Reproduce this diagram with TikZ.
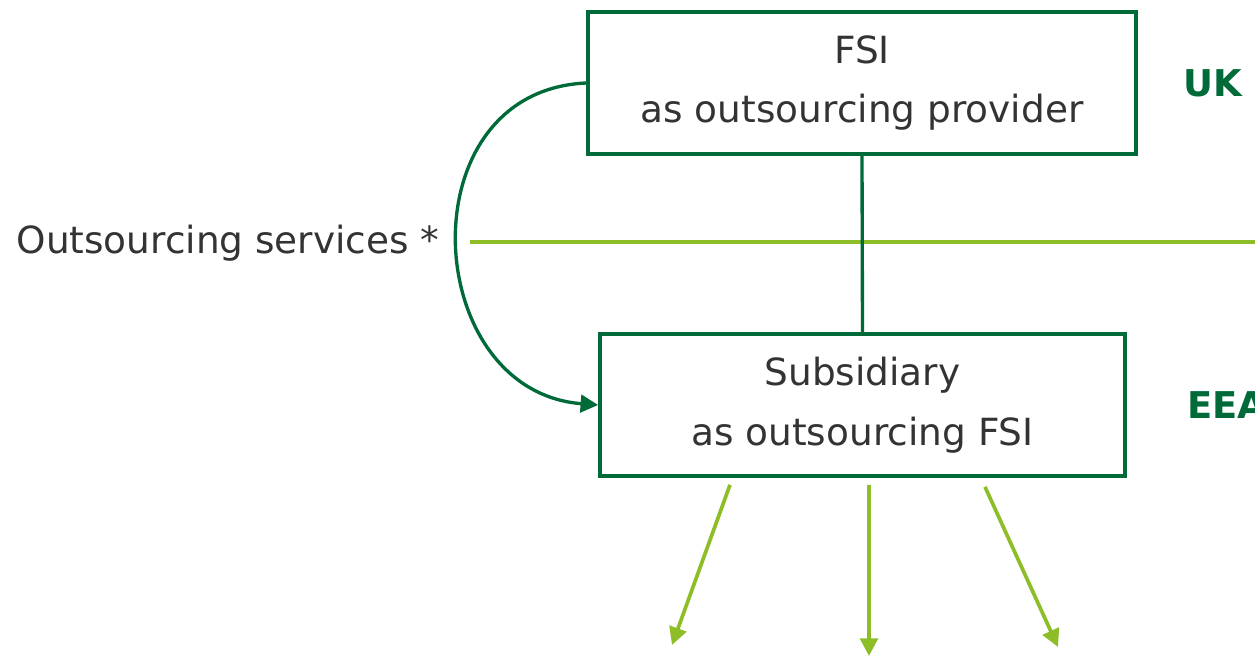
\documentclass[tikz,border=0pt]{standalone}
\usepackage{fontspec}
\setmainfont{DejaVu Sans}
\usetikzlibrary{
    positioning,
    arrows.meta
}
\definecolor{fsiGreen}{RGB}{0,106,57}
\definecolor{lineGreen}{RGB}{141,190,40}
\definecolor{textGrey}{RGB}{51,51,51}
\tikzset{
    >={Triangle[length=10pt,width=10pt]},
    % Boxes for the two entities
    entity/.style={
        draw=fsiGreen,
        line width=2.1pt,
        text=textGrey,
        align=center,
        font=\fontsize{21.3}{34}\selectfont,
        minimum height=2.84cm
    },
    % Labels for the regions
    region/.style={
        text=fsiGreen,
        font=\fontsize{21}{25}\selectfont\bfseries,
        anchor=west,
        inner sep=0pt
    },
    plain/.style={
        text=textGrey,
        font=\fontsize{21.3}{25}\selectfont,
        inner sep=0pt
    },
    border/.style={
        draw=lineGreen,
        line width=2.1pt
    },
    flow/.style={
        border,
        ->
    },
    link/.style={
        draw=fsiGreen,
        line width=1.9pt
    }
}

\begin{document}
\begin{tikzpicture}

    \useasboundingbox (0,0) rectangle (25.1,13.12);

    \node[entity, minimum width=10.96cm] (provider) at (17.24,11.46) {FSI\\as outsourcing provider};
    \node[entity, minimum width=10.5cm] (subsidiary) at (17.25,5.02) {Subsidiary\\as outsourcing FSI};

    \node[region] (uk) at (23.66,11.46) {UK};
    \node[region] (eea) at (23.74,5.02) {EEA};

    \node[plain, anchor=east] (services) at (8.8,8.26) {Outsourcing services *};

    % border between UK and EEA
    \coordinate (borderL) at (9.4,8.28);
    \coordinate (borderR) at (25.1,8.28);
    \draw[border] (borderL) -- (borderR);

    \draw[link] (provider.south) -- (subsidiary.north);
    \draw[link,->] (provider.west) .. controls (8.1,11.3) and (8.4,5.3) .. (subsidiary.west);

    % outgoing arrows
    \coordinate (outL) at (13.44,0.22);
    \coordinate (outM) at (17.38,0);
    \coordinate (outR) at (21.16,0.18);
    \draw[flow] ([xshift=-2.65cm,yshift=-0.14cm]subsidiary.south) -- (outL);
    \draw[flow] ([xshift=0.13cm,yshift=-0.14cm]subsidiary.south) -- (outM);
    \draw[flow] ([xshift=2.45cm,yshift=-0.18cm]subsidiary.south) -- (outR);

\end{tikzpicture}
\end{document}
